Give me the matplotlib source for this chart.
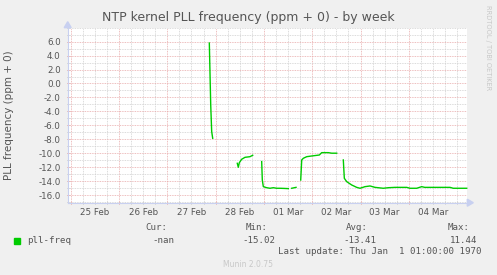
import numpy as np
import matplotlib
matplotlib.use("Agg")
import matplotlib.pyplot as plt
from matplotlib.ticker import MultipleLocator

# time in days since 25 Feb 00:00, NaN marks gaps
t_days = [2.870, 2.899, 2.919, 2.940, np.nan,
          3.449, 3.470, 3.491, 3.540, 3.609, 3.712, 3.768, np.nan,
          3.954, 3.967, 3.988, 4.058, 4.126, 4.195, 4.265, 4.333, 4.416, 4.505, np.nan,
          4.576, 4.665, np.nan,
          4.762, 4.783, 4.816, 4.886, 4.990, 5.147, 5.197, 5.333, 5.404, 5.507, np.nan,
          5.644, 5.665, 5.714, 5.818, 5.921, 5.990, 6.093, 6.197, 6.300, 6.472, 6.576,
          6.714, 6.957, 7.025, 7.164, 7.267, 7.330, 7.578, 7.853, 7.921, 8.199]
freq = [5.80, -3.08, -6.90, -7.86, np.nan,
        -11.45, -12.02, -11.36, -10.87, -10.59, -10.50, -10.30, np.nan,
        -11.20, -13.85, -14.80, -14.95, -15.03, -14.95, -15.03, -15.03, -15.05, -15.08, np.nan,
        -15.03, -14.90, np.nan,
        -13.85, -10.97, -10.73, -10.50, -10.40, -10.26, -9.92, -9.92, -10.00, -10.00, np.nan,
        -10.97, -13.60, -14.08, -14.56, -14.90, -15.03, -14.80, -14.70, -14.90, -15.03, -14.95,
        -14.90, -14.90, -15.03, -15.03, -14.80, -14.90, -14.90, -14.90, -15.03, -15.03]

day_labels = ["25 Feb", "26 Feb", "27 Feb", "28 Feb", "01 Mar", "02 Mar", "03 Mar", "04 Mar"]
y_ticks = [6.0, 4.0, 2.0, 0.0, -2.0, -4.0, -6.0, -8.0, -10.0, -12.0, -14.0, -16.0]

title = "NTP kernel PLL frequency (ppm + 0) - by week"
ylabel = "PLL frequency (ppm + 0)"
legend_name = "pll-freq"
stats_heads = ["Cur:", "Min:", "Avg:", "Max:"]
stats_vals = ["-nan", "-15.02", "-13.41", "11.44"]
last_update = "Last update: Thu Jan  1 01:00:00 1970"

W, H = 497, 275
fig = plt.figure(figsize=(W / 100, H / 100), dpi=100)
fig.patch.set_facecolor("#F0F0F0")

L, R, T, B = 67.7, 467.3, 27.7, 202.7
ax = fig.add_axes([L / W, 1 - B / H, (R - L) / W, (B - T) / H])
ax.set_facecolor("white")

ax.set_xlim(-0.062, 8.211)
ax.set_ylim(-17.1, 8.0)

# grid
ax.xaxis.set_major_locator(MultipleLocator(1.0))
ax.xaxis.set_minor_locator(MultipleLocator(0.25))
ax.yaxis.set_major_locator(MultipleLocator(2.0))
ax.yaxis.set_minor_locator(MultipleLocator(1.0))
ax.grid(which="minor", color="#CFCFCF", linestyle=(0, (1, 1)), linewidth=0.6)
ax.grid(which="major", color="#E8A8A8", linestyle=(0, (1, 1)), linewidth=0.6)
ax.set_axisbelow(True)

ax.set_xticks(range(len(day_labels)))
ax.set_xticklabels([])
for i, lab in enumerate(day_labels):
    ax.text(i + 0.5, -0.03, lab, transform=ax.get_xaxis_transform(),
            ha="center", va="top", fontsize=6.3, color="#555555")
ax.set_yticks(y_ticks)
ax.set_yticklabels([f"{v:.1f}" for v in y_ticks], fontsize=6.3, color="#555555")

ax.tick_params(axis="both", which="major", length=2, width=0.6, color="#E08080", direction="inout")
ax.tick_params(axis="both", which="minor", length=2, width=0.6, color="#BBBBBB", direction="inout")
ax.tick_params(axis="y", pad=4)

for s in ["top", "right"]:
    ax.spines[s].set_visible(False)
for s in ["left", "bottom"]:
    ax.spines[s].set_color("#C8D0F0")
    ax.spines[s].set_linewidth(0.8)

# axis arrows
fig.patches.append(plt.Polygon([[(R + 6) / W, 1 - B / H], [R / W, 1 - (B - 3.5) / H], [R / W, 1 - (B + 3.5) / H]],
                               closed=True, transform=fig.transFigure, color="#C8D0F0"))
fig.patches.append(plt.Polygon([[L / W, 1 - (T - 6) / H], [(L - 3.5) / W, 1 - T / H], [(L + 3.5) / W, 1 - T / H]],
                               closed=True, transform=fig.transFigure, color="#C8D0F0"))

ax.plot(t_days, freq, color="#00CC00", linewidth=1.0, clip_on=False)

fig.text(248 / W, 1 - 18 / H, title, ha="center", va="center", fontsize=9, color="#555555")
fig.text(9 / W, 1 - 115 / H, ylabel, ha="center", va="center", rotation=90, fontsize=7.5, color="#555555")
fig.text(488 / W, 1 - 5 / H, "RRDTOOL / TOBI OETIKER", ha="center", va="top", rotation=270,
         fontsize=4.8, color="#C8C8C8")

mono = "DejaVu Sans Mono"
fig.patches.append(plt.Rectangle((14 / W, 1 - 243.7 / H), 6 / W, 6 / H, transform=fig.transFigure,
                                 color="#00CC00"))
fig.text(26.7 / W, 1 - 240.5 / H, legend_name, ha="left", va="center", fontsize=6.6, color="#555555", family=mono)
head_x = [167, 268, 368, 470]
val_x = [174, 275, 376, 477]
for hx, h in zip(head_x, stats_heads):
    fig.text(hx / W, 1 - 228 / H, h, ha="right", va="center", fontsize=6.6, color="#555555", family=mono)
for vx, v in zip(val_x, stats_vals):
    fig.text(vx / W, 1 - 240.5 / H, v, ha="right", va="center", fontsize=6.6, color="#555555", family=mono)
fig.text(482 / W, 1 - 251.5 / H, last_update, ha="right", va="center", fontsize=6.6, color="#555555", family=mono)
fig.text(248 / W, 1 - 264.5 / H, "Munin 2.0.75", ha="center", va="center", fontsize=5.5, color="#C8C8C8")

fig.savefig("out.png", dpi=100, facecolor=fig.get_facecolor())
